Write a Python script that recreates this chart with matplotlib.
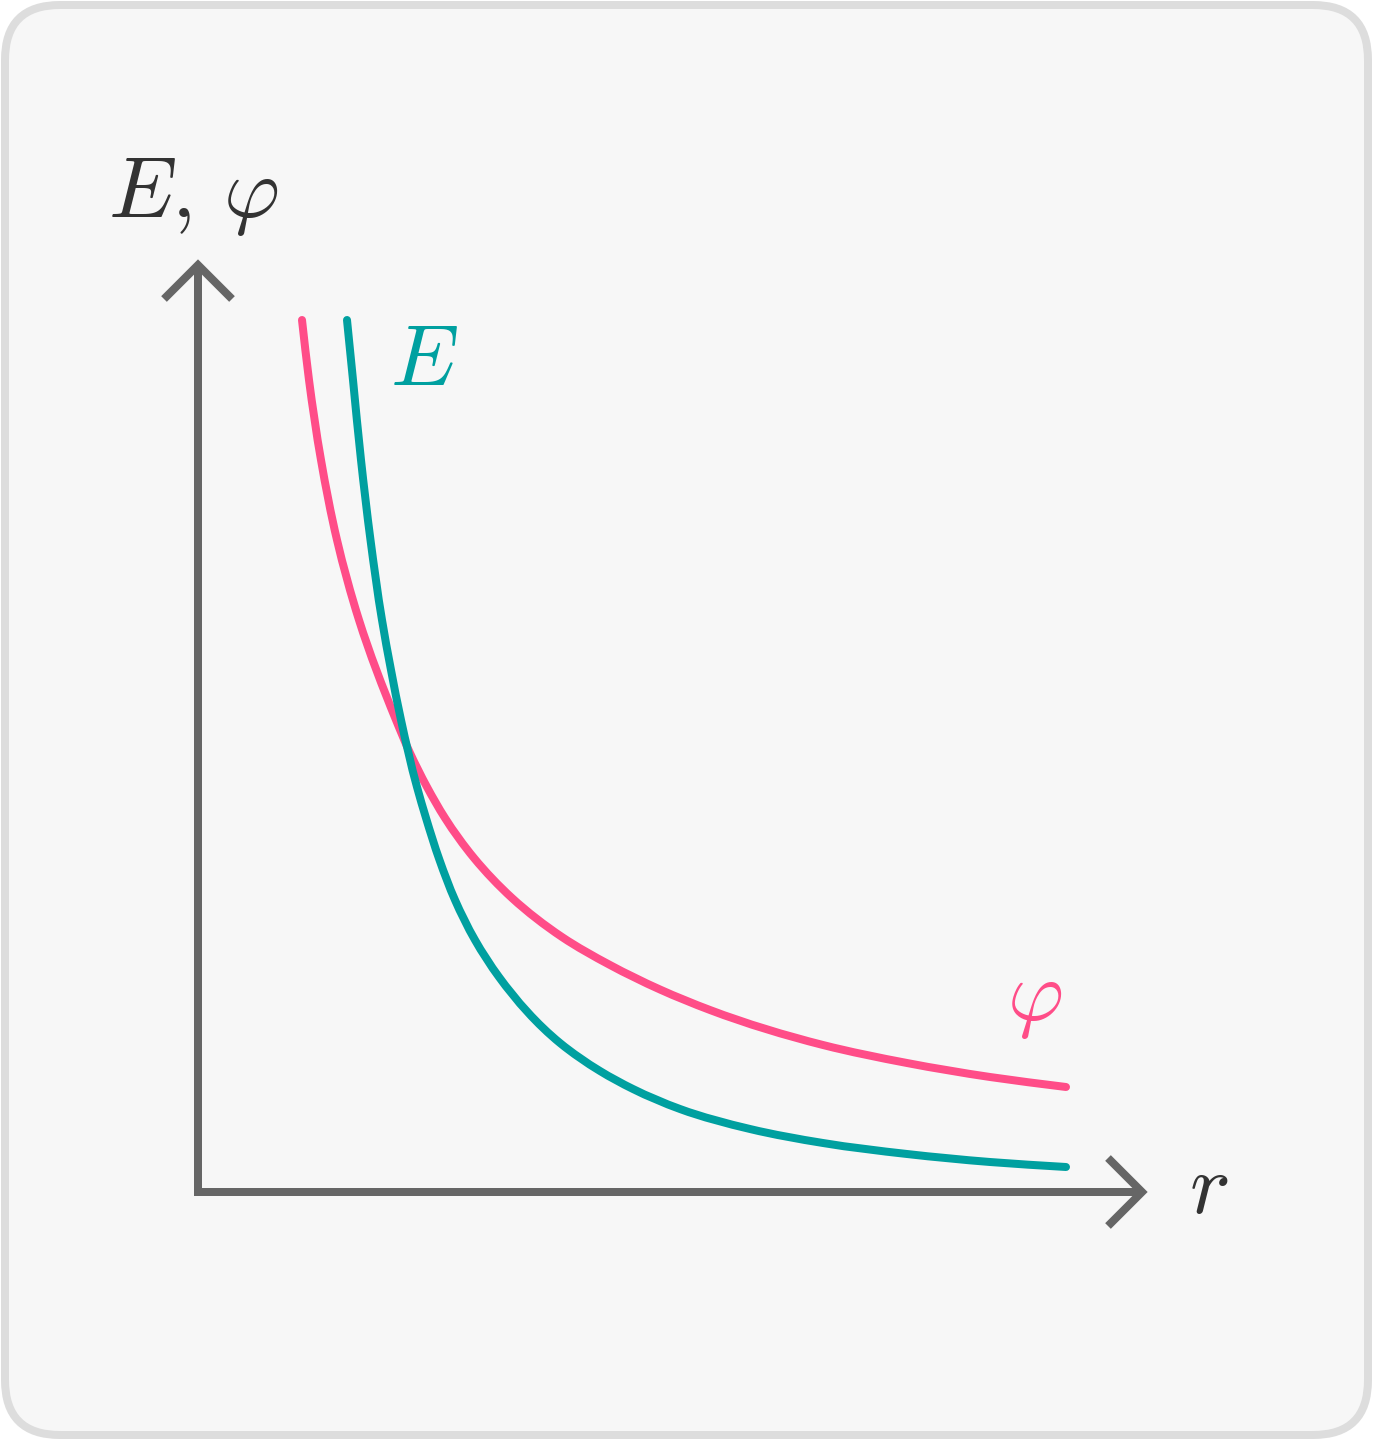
import matplotlib
matplotlib.use("Agg")
import numpy as np
import matplotlib.pyplot as plt
from matplotlib.patches import FancyBboxPatch, PathPatch
from matplotlib.path import Path

plt.rcParams["mathtext.fontset"] = "cm"

# curves (r along the axis, value above the r axis)
phi_r = [104, 111, 123, 139, 161, 198, 212, 229, 247, 276, 314, 364, 412, 462, 512, 625, 709, 792, 868]
phi_v = [872, 812, 732, 652, 572, 472, 439, 405, 374, 334, 294, 255, 227, 202.5, 182, 147, 129, 115, 105]

e_r = [149, 155, 163, 172.5, 184, 193, 203, 219, 228, 241.5, 257, 277, 301, 362, 402, 435, 482, 552, 625, 709, 792, 868]
e_v = [872, 812, 732, 652, 572, 522, 472, 405, 374, 332, 292, 252, 215, 149, 121, 103, 83, 63, 49, 38, 30, 25]

axis_labels = [r"$E,\,\varphi$", r"$r$"]
curve_labels = [r"$E$", r"$\varphi$"]

PINK = "#ff4d88"
TEAL = "#00a0a0"
AXIS = "#666666"
TEXT = "#333333"

W, H = 1373, 1440
X0, Y0 = 198, 248  # origin in pixels from left / bottom
LW = 8 * 72 / 100


def smooth_path(xs, ys):
    # bezier path through the read points, Bessel tangents
    p = np.column_stack([xs, ys]).astype(float)
    n = len(p)
    d = np.hypot(*np.diff(p, axis=0).T)
    s = np.diff(p, axis=0) / d[:, None]
    m = np.zeros_like(p)
    m[0], m[-1] = s[0], s[-1]
    for i in range(1, n - 1):
        a, b = d[i - 1], d[i]
        m[i] = (b * s[i - 1] + a * s[i]) / (a + b)
    verts = [p[0]]
    codes = [Path.MOVETO]
    for i in range(n - 1):
        verts += [p[i] + m[i] * d[i] / 3, p[i + 1] - m[i + 1] * d[i] / 3, p[i + 1]]
        codes += [Path.CURVE4] * 3
    return Path(verts, codes)


fig = plt.figure(figsize=(W / 100, H / 100), dpi=100, facecolor="white")
ax = fig.add_axes([0, 0, 1, 1])
ax.set_xlim(-X0, W - X0)
ax.set_ylim(-Y0, H - Y0)
ax.axis("off")

# card background
card = FancyBboxPatch((-X0 + 5, -Y0 + 5), W - 10, H - 10,
                      boxstyle="round,pad=0,rounding_size=55",
                      facecolor="#f7f7f7", edgecolor="#dddddd", lw=LW, clip_on=False)
ax.add_patch(card)

# axes with open arrow heads
r_max, v_max, head = 944, 927, 34
ax.plot([0, 0, r_max], [v_max, 0, 0], color=AXIS, lw=LW, solid_joinstyle="miter",
        solid_capstyle="butt")
ax.plot([-head, 0, head], [v_max - head, v_max, v_max - head], color=AXIS, lw=LW,
        solid_joinstyle="miter", solid_capstyle="butt")
ax.plot([r_max - head, r_max, r_max - head], [head, 0, -head], color=AXIS, lw=LW,
        solid_joinstyle="miter", solid_capstyle="butt")

# curves
for xs, ys, c in [(phi_r, phi_v, PINK), (e_r, e_v, TEAL)]:
    patch = PathPatch(smooth_path(xs, ys), facecolor="none", edgecolor=c, lw=LW,
                      capstyle="round", joinstyle="round")
    ax.add_patch(patch)

fs = 62
ax.text(-5, 975, axis_labels[0], fontsize=fs, color=TEXT, ha="center", va="baseline")
ax.text(1011, -21, axis_labels[1], fontsize=fs, color=TEXT, ha="center", va="baseline")
ax.text(226, 807, curve_labels[0], fontsize=fs, color=TEAL, ha="center", va="baseline")
ax.text(837, 172, curve_labels[1], fontsize=fs, color=PINK, ha="center", va="baseline")

fig.savefig("out.png", dpi=100, facecolor="white")
